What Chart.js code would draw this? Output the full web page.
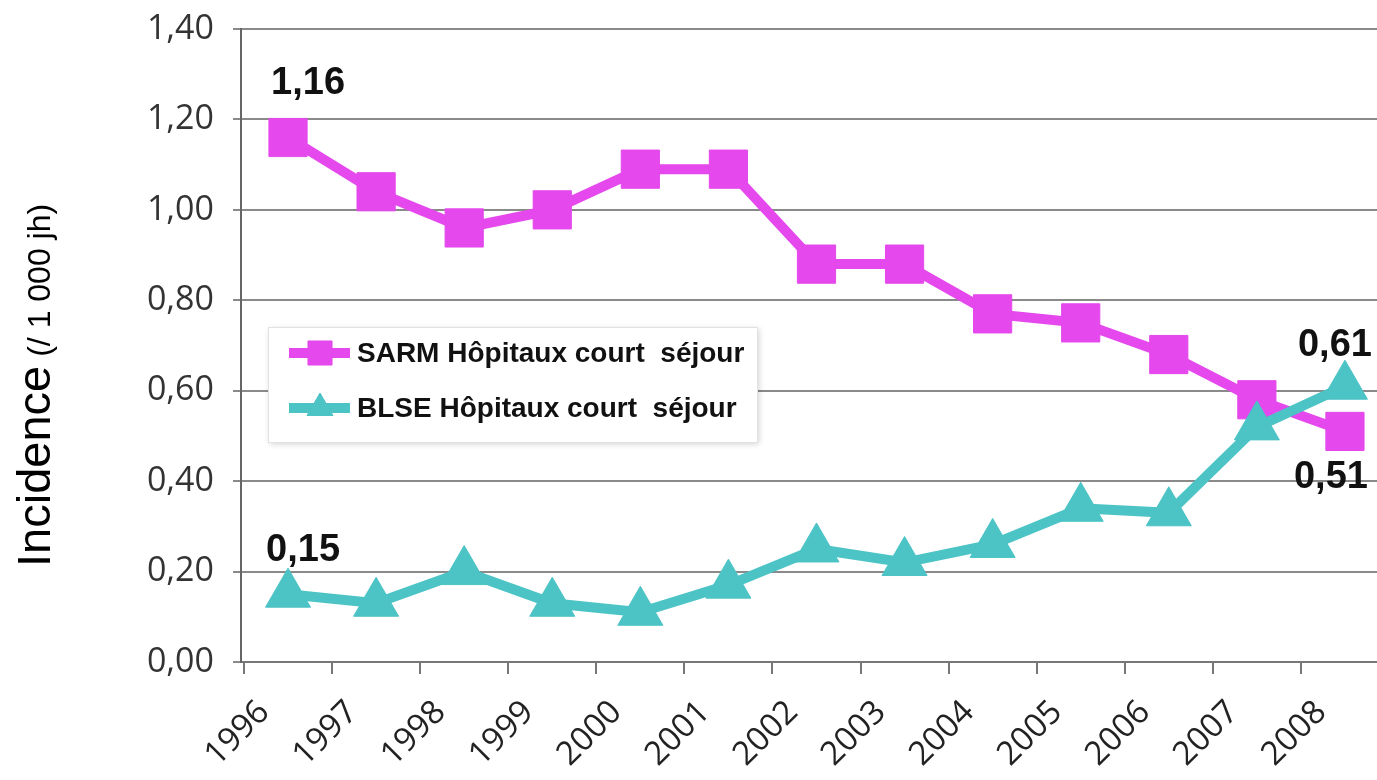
<!DOCTYPE html>
<html>
<head>
<meta charset="utf-8">
<script src="https://cdn.jsdelivr.net/npm/chart.js@4.4.1/dist/chart.umd.min.js"></script>
<style>
html,body{margin:0;padding:0;background:#fff;overflow:hidden}
#wrap{position:relative;width:1377px;height:780px}
</style>
</head>
<body>
<div id="wrap"><canvas id="c"></canvas></div>
<script>
// ---- data ----
const years = ['1996','1997','1998','1999','2000','2001','2002','2003','2004','2005','2006','2007','2008'];
const sarmValues = [1.16, 1.04, 0.96, 1.00, 1.09, 1.09, 0.88, 0.88, 0.77, 0.75, 0.68, 0.58, 0.51];
const blseValues = [0.15, 0.13, 0.20, 0.13, 0.11, 0.17, 0.25, 0.22, 0.26, 0.34, 0.33, 0.52, 0.61];
const seriesNames = ['SARM Hôpitaux court  séjour', 'BLSE Hôpitaux court  séjour'];
const yTickValues = [0, 0.2, 0.4, 0.6, 0.8, 1.0, 1.2, 1.4];
const labelledIndices = [0, 12];
const yTitleMain = 'Incidence';
const yTitleUnit = '(/ 1 000 jh)';

// ---- styles ----
const SARM_COLOR = '#E548EC';
const BLSE_COLOR = '#4CC3C5';
const X_MIN = -0.534, X_MAX = 12.364;
const LABEL_SHIFT = -0.27;   // rotated year labels sit a little left of the points
const fmt = v => v.toFixed(2).replace('.', ',');
const toPoints = arr => arr.map((v, i) => ({x: i, y: v}));

// data label offsets (style, relative to point)
const labelOffsets = {
  0: {0: [20, -54], 12: [-14, 46]},
  1: {0: [15, -44], 12: [-10, -41]}
};

const titlePlugin = {
  id: 'yTitle',
  afterDraw(chart) {
    const ctx = chart.ctx;
    ctx.save();
    ctx.translate(50, 567);
    ctx.rotate(-Math.PI / 2);
    ctx.fillStyle = '#000';
    ctx.textAlign = 'left';
    ctx.textBaseline = 'alphabetic';
    ctx.font = '47px "Liberation Sans", Arial, sans-serif';
    ctx.fillText(yTitleMain, 0, 0);
    const w = ctx.measureText(yTitleMain).width;
    ctx.font = '32px "Liberation Sans", Arial, sans-serif';
    ctx.fillText(yTitleUnit, w + 9, 0);
    ctx.restore();
  }
};

const legendPlugin = {
  id: 'boxLegend',
  beforeDatasetsDraw(chart) {
    const ctx = chart.ctx;
    const lx = 268, ly = 327, lw = 489, lh = 115;
    ctx.save();
    ctx.shadowColor = 'rgba(0,0,0,0.18)';
    ctx.shadowBlur = 6;
    ctx.shadowOffsetX = 2;
    ctx.shadowOffsetY = 2;
    ctx.fillStyle = '#fff';
    ctx.fillRect(lx, ly, lw, lh);
    ctx.restore();
    ctx.save();
    ctx.strokeStyle = '#e2e2e2';
    ctx.lineWidth = 1;
    ctx.strokeRect(lx + 0.5, ly + 0.5, lw, lh);
    const order = [0, 1];
    const rowsY = [353, 408];
    order.forEach((dsIndex, r) => {
      const ds = chart.data.datasets[dsIndex];
      const y = rowsY[r];
      ctx.strokeStyle = ds.borderColor;
      ctx.lineWidth = 10;
      ctx.beginPath();
      ctx.moveTo(289, y);
      ctx.lineTo(350, y);
      ctx.stroke();
      ctx.fillStyle = ds.backgroundColor;
      ctx.strokeStyle = ds.borderColor;
      ctx.lineWidth = 1;
      Chart.helpers.drawPoint(ctx, {
        pointStyle: ds.pointStyle,
        radius: ds.pointStyle === 'rect' ? 17 : 15,
        rotation: 0,
        borderWidth: 1
      }, 320, y);
      ctx.fillStyle = '#111';
      ctx.font = 'bold 28px "Liberation Sans", Arial, sans-serif';
      ctx.textAlign = 'left';
      ctx.textBaseline = 'middle';
      ctx.fillText(ds.label, 357, y + 1);
    });
    ctx.restore();
  }
};

const dataLabelPlugin = {
  id: 'endLabels',
  afterDatasetsDraw(chart) {
    const ctx = chart.ctx;
    ctx.save();
    ctx.fillStyle = '#111';
    ctx.font = 'bold 38px "Liberation Sans", Arial, sans-serif';
    ctx.textAlign = 'center';
    ctx.textBaseline = 'middle';
    chart.data.datasets.forEach((ds, di) => {
      const meta = chart.getDatasetMeta(di);
      labelledIndices.forEach(i => {
        const pt = meta.data[i];
        const off = labelOffsets[di][i];
        ctx.fillText(fmt(ds.data[i].y), pt.x + off[0], pt.y + off[1]);
      });
    });
    ctx.restore();
  }
};

const noPad = scale => {
  scale.paddingLeft = 0; scale.paddingRight = 0;
  scale.paddingTop = 0; scale.paddingBottom = 0;
};

new Chart(document.getElementById('c'), {
  type: 'line',
  data: {
    datasets: [
      {
        label: seriesNames[0],
        data: toPoints(sarmValues),
        borderColor: SARM_COLOR,
        backgroundColor: SARM_COLOR,
        borderWidth: 10,
        pointStyle: 'rect',
        pointRadius: 27,
        pointBorderWidth: 1,
        tension: 0,
        clip: false,
        order: 2
      },
      {
        label: seriesNames[1],
        data: toPoints(blseValues),
        borderColor: BLSE_COLOR,
        backgroundColor: BLSE_COLOR,
        borderWidth: 10,
        pointStyle: 'triangle',
        pointRadius: 26,
        pointBorderWidth: 1,
        tension: 0,
        clip: false,
        order: 1
      }
    ]
  },
  options: {
    responsive: true,
    maintainAspectRatio: false,
    animation: false,
    layout: {autoPadding: false, padding: {top: 29, left: 0, right: 0, bottom: 0}},
    plugins: {legend: {display: false}, tooltip: {enabled: false}},
    scales: {
      x: {
        type: 'linear',
        position: 'bottom',
        weight: 0,
        min: X_MIN,
        max: X_MAX,
        afterBuildTicks(scale) {
          // tick marks at category boundaries
          scale.ticks = years.map((y, i) => ({value: i - 0.5}));
        },
        afterFit(scale) { scale.height = 12; noPad(scale); },
        ticks: {display: false, callback: () => ''},
        grid: {drawOnChartArea: false, tickLength: 12, color: '#777', lineWidth: 2},
        border: {display: true, color: '#777', width: 2}
      },
      x2: {
        type: 'linear',
        position: 'bottom',
        weight: 1,
        min: X_MIN,
        max: X_MAX,
        afterBuildTicks(scale) {
          scale.ticks = years.map((y, i) => ({value: i + LABEL_SHIFT}));
        },
        afterFit(scale) { scale.height = 106; noPad(scale); },
        ticks: {
          callback: function(v, idx) { return years[idx]; },
          maxRotation: 45,
          minRotation: 45,
          autoSkip: false,
          padding: 19,
          color: '#222',
          font: {family: '"Open Sans", sans-serif', size: 33}
        },
        grid: {display: false, drawTicks: false},
        border: {display: false}
      },
      y: {
        type: 'linear',
        min: 0,
        max: 1.4,
        afterBuildTicks(scale) {
          scale.ticks = yTickValues.map(v => ({value: v}));
        },
        afterFit(scale) { scale.width = 241; noPad(scale); },
        ticks: {
          callback: (v) => fmt(v),
          padding: 19,
          color: '#333',
          font: {family: '"Open Sans", sans-serif', size: 34}
        },
        grid: {color: '#8a8a8a', lineWidth: 2, tickLength: 8},
        border: {display: true, color: '#666', width: 2}
      }
    }
  },
  plugins: [legendPlugin, dataLabelPlugin, titlePlugin]
});
</script>
</body>
</html>
